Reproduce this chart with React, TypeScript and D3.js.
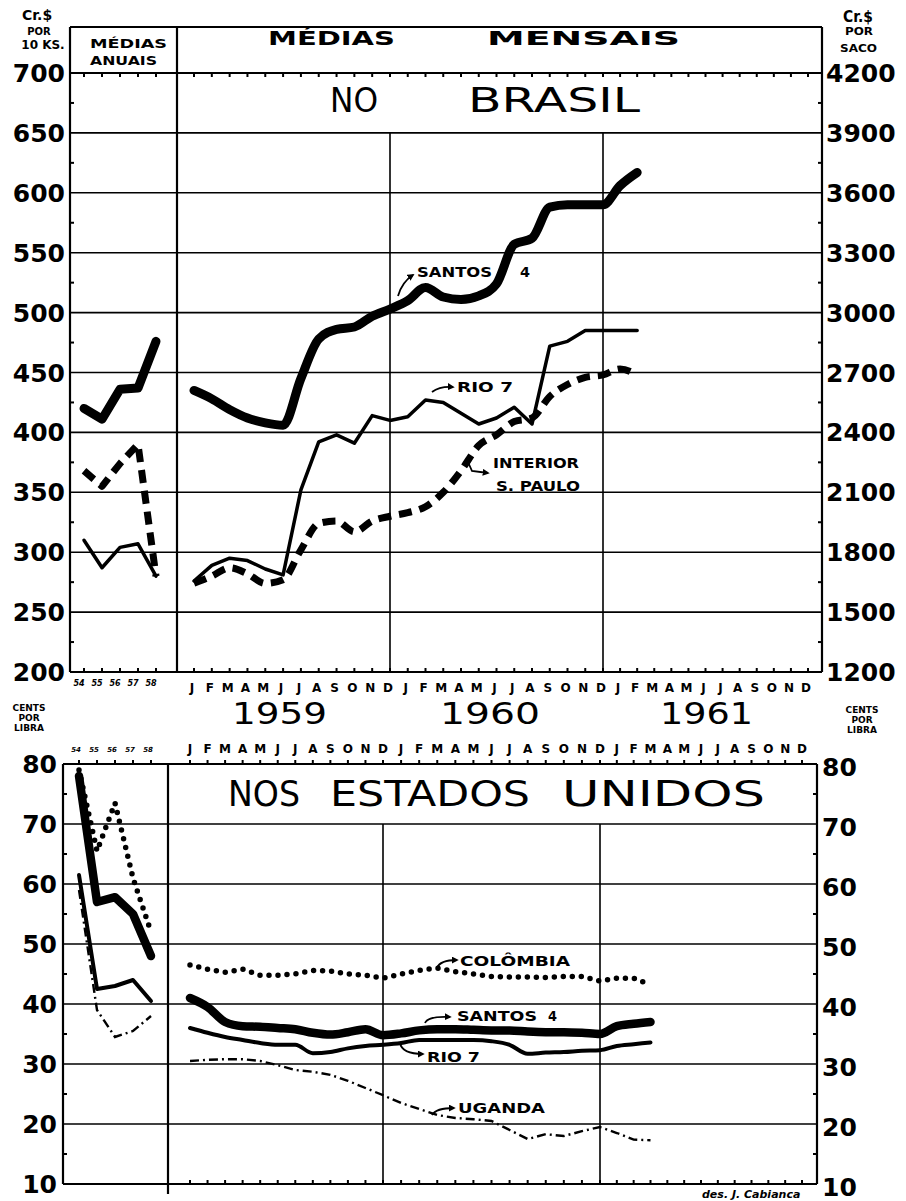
import React from "react";
import * as d3 from "d3";

// ---------- tick labels ----------
const monthLetters = ["J", "F", "M", "A", "M", "J", "J", "A", "S", "O", "N", "D"];
const yearLabels = ["1959", "1960", "1961"];
const annualYears = ["54", "55", "56", "57", "58"];
const brLeftTicks = [200, 250, 300, 350, 400, 450, 500, 550, 600, 650, 700];
const brRightTicks = [1200, 1500, 1800, 2100, 2400, 2700, 3000, 3300, 3600, 3900, 4200];
const usTicks = [10, 20, 30, 40, 50, 60, 70, 80];

// ---------- Brazil (Cr$ per 10 kg) ----------
const brSantosAnnual = [420, 411, 436, 437, 476];
const brRioAnnual = [310, 287, 304, 307, 280];
const brInteriorAnnual = [368, 355, 374, 390, 280];
// monthly Jan 1959 .. Feb 1961
const brSantosMonthly = [435, 428, 419, 412, 408, 406, 445, 478, 486, 488, 497, 503, 510, 521, 513, 511, 514, 524, 557, 562, 588, 590, 590, 590, 606, 617];
const brRioMonthly = [276, 289, 295, 293, 286, 281, 352, 392, 398, 391, 414, 410, 413, 427, 425, 416, 407, 412, 421, 407, 472, 476, 485, 485, 485, 485];
const brInteriorMonthly = [274, 280, 287, 282, 274, 277, 302, 324, 326, 317, 326, 330, 333, 338, 350, 368, 389, 398, 409, 412, 430, 440, 446, 448, 453, 448];

// ---------- United States (cents per lb) ----------
const usSantosAnnual = [78, 57, 57.8, 55, 48];
const usColombiaAnnual = [79, 65.5, 73.5, 61, 52];
const usRioAnnual = [61.5, 42.5, 43, 44, 40.5];
const usUgandaAnnual = [59, 39, 34.5, 35.5, 38];
// monthly Jan 1959 .. Mar 1961
const usColombiaMonthly = [46.5, 45.8, 45.3, 45.8, 44.8, 44.8, 45.0, 45.6, 45.5, 45.0, 44.8, 44.3, 45.0, 45.6, 46.0, 45.4, 45.0, 44.6, 44.5, 44.5, 44.4, 44.6, 44.6, 43.8, 44.3, 44.3, 43.2];
const usSantosMonthly = [41.0, 39.5, 37.0, 36.3, 36.2, 36.0, 35.8, 35.2, 34.9, 35.3, 35.8, 34.8, 35.1, 35.6, 35.8, 35.8, 35.7, 35.6, 35.6, 35.4, 35.3, 35.3, 35.2, 35.0, 36.3, 36.7, 37.0];
const usRioMonthly = [36.0, 35.2, 34.5, 34.0, 33.5, 33.2, 33.2, 31.8, 32.0, 32.6, 33.0, 33.2, 33.5, 34.0, 34.0, 34.0, 34.0, 33.8, 33.2, 31.7, 31.9, 32.0, 32.2, 32.3, 33.0, 33.3, 33.6];
const usUgandaMonthly = [30.5, 30.7, 30.8, 30.8, 30.5, 29.8, 29.0, 28.7, 28.2, 27.2, 26.0, 24.8, 23.5, 22.5, 21.5, 21.0, 20.8, 20.5, 19.0, 17.5, 18.3, 18.0, 18.8, 19.5, 18.5, 17.4, 17.3];

const FONT = "'DejaVu Sans', Verdana, sans-serif";
const INK = "#000";

// ---------- geometry ----------
const T = { left: 70, right: 822, top: 27, sep: 177 };
const B = { left: 63, right: 817, sep: 168 };

const yTop = d3.scaleLinear().domain([200, 700]).range([672, 73]);
const yTopR = d3.scaleLinear().domain([1200, 4200]).range([672, 73]);
const xTopM = d3.scaleLinear().domain([0, 11, 23, 35]).range([194, 390, 603, 808]);
const xTopA = d3.scaleLinear().domain([0, 4]).range([84, 156]);

const yBot = d3.scaleLinear().domain([10, 80]).range([1184, 764]);
const xBotM = d3.scaleLinear().domain([0, 11, 23, 35]).range([190, 383, 600, 802]);
const xBotA = d3.scaleLinear().domain([0, 4]).range([79, 151]);

function mkLine(x: any, y: any, curve: any = d3.curveLinear) {
  return d3
    .line<number>()
    .x((_, i) => x(i))
    .y((d) => y(d))
    .curve(curve);
}

const topM = mkLine(xTopM, yTop, d3.curveMonotoneX);
const topMLin = mkLine(xTopM, yTop);
const topA = mkLine(xTopA, yTop);
const botM = mkLine(xBotM, yBot, d3.curveMonotoneX);
const botMLin = mkLine(xBotM, yBot);
const botA = mkLine(xBotA, yBot);

const monthIdx = d3.range(36);

const santosStyle = { fill: "none", stroke: INK, strokeWidth: 9, strokeLinecap: "round" as const, strokeLinejoin: "round" as const };
const rioStyle = { fill: "none", stroke: INK, strokeWidth: 3.5, strokeLinecap: "round" as const, strokeLinejoin: "round" as const };
const interiorStyle = { fill: "none", stroke: INK, strokeWidth: 7, strokeDasharray: "13 8", strokeLinejoin: "round" as const };
const colombiaStyle = { fill: "none", stroke: INK, strokeWidth: 5.5, strokeDasharray: "0 9", strokeLinecap: "round" as const };
const ugandaStyle = { fill: "none", stroke: INK, strokeWidth: 2.4, strokeDasharray: "9 4 2 4" };

function Label({ x, y, text, len, size = 14, weight = "bold" }: any) {
  return (
    <text x={x} y={y} fontSize={size} fontWeight={weight} fontFamily={FONT} textLength={len} lengthAdjust="spacingAndGlyphs" fill={INK}>
      {text}
    </text>
  );
}

function Arrow({ d }: { d: string }) {
  return <path d={d} fill="none" stroke={INK} strokeWidth={1.8} markerEnd="url(#arrowHead)" />;
}

export default function App() {
  const gridStroke = { stroke: INK, strokeWidth: 1.6 };
  const frameStroke = { stroke: INK, strokeWidth: 2.2 };

  return (
    <svg width={906} height={1201} viewBox="0 0 906 1201" style={{ position: "absolute", left: 0, top: 0, background: "#fff" }} fontFamily={FONT}>
      <defs>
        <marker id="arrowHead" viewBox="0 0 8 8" refX="6" refY="4" markerWidth="7" markerHeight="7" orient="auto" markerUnits="userSpaceOnUse">
          <path d="M0,0 L8,4 L0,8 z" fill={INK} />
        </marker>
      </defs>
      <rect x={0} y={0} width={906} height={1201} fill="#fff" />

      {/* ================= TOP PANEL: NO BRASIL ================= */}
      <line x1={T.left} x2={T.right} y1={T.top} y2={T.top} {...frameStroke} />
      <line x1={T.left} x2={T.left} y1={T.top} y2={yTop(200)} {...frameStroke} />
      <line x1={T.right} x2={T.right} y1={T.top} y2={yTop(200)} {...frameStroke} />
      <line x1={T.sep} x2={T.sep} y1={T.top} y2={yTop(200)} {...frameStroke} />
      {brLeftTicks.map((v) => (
        <line key={"tg" + v} x1={T.left} x2={T.right} y1={yTop(v)} y2={yTop(v)} {...(v === 200 || v === 700 ? frameStroke : gridStroke)} />
      ))}
      {[11, 23].map((m) => (
        <line key={"tv" + m} x1={xTopM(m)} x2={xTopM(m)} y1={yTop(650)} y2={yTop(200)} {...gridStroke} />
      ))}
      {monthIdx.map((m) => (
        <g key={"tt" + m}>
          <line x1={xTopM(m)} x2={xTopM(m)} y1={yTop(200)} y2={yTop(200) - 4} stroke={INK} strokeWidth={2} />
          <line x1={xTopM(m)} x2={xTopM(m)} y1={yTop(700)} y2={yTop(700) + 4} stroke={INK} strokeWidth={2} />
        </g>
      ))}
      {annualYears.map((_, i) => (
        <g key={"ta" + i}>
          <line x1={xTopA(i)} x2={xTopA(i)} y1={yTop(200)} y2={yTop(200) - 4} stroke={INK} strokeWidth={2} />
          <line x1={xTopA(i)} x2={xTopA(i)} y1={yTop(700)} y2={yTop(700) + 4} stroke={INK} strokeWidth={2} />
        </g>
      ))}
      {d3.range(225, 700, 50).map((v) => (
        <g key={"tm" + v}>
          <line x1={T.left} x2={T.left + 4} y1={yTop(v)} y2={yTop(v)} stroke={INK} strokeWidth={2} />
          <line x1={T.right - 4} x2={T.right} y1={yTop(v)} y2={yTop(v)} stroke={INK} strokeWidth={2} />
        </g>
      ))}

      {brLeftTicks.map((v) => (
        <text key={"tl" + v} x={65} y={yTop(v) + 9} textAnchor="end" fontSize={25} fontWeight="bold" fill={INK}>
          {v}
        </text>
      ))}
      {brRightTicks.map((v) => (
        <text key={"tr" + v} x={826} y={yTopR(v) + 9} textAnchor="start" fontSize={25} fontWeight="bold" fill={INK}>
          {v}
        </text>
      ))}

      <text x={37} y={20} textAnchor="middle" fontSize={14} fontWeight="bold">Cr.$</text>
      <text x={39} y={35} textAnchor="middle" fontSize={10} fontWeight="bold">POR</text>
      <text x={43} y={49} textAnchor="middle" fontSize={12} fontWeight="bold">10 KS.</text>
      <Label x={843} y={22} text="Cr.$" len={30} size={15} />
      <Label x={845} y={35} text="POR" len={28} size={11} />
      <Label x={840} y={52} text="SACO" len={37} size={11} />

      <Label x={90} y={48} text="MÉDIAS" len={77} size={13} />
      <Label x={90} y={65} text="ANUAIS" len={67} size={13} />
      <Label x={268} y={45} text="MÉDIAS" len={127} size={19} />
      <Label x={487} y={45} text="MENSAIS" len={193} size={19} />
      <Label x={330} y={112} text="NO" len={48} size={34} weight="normal" />
      <Label x={468} y={112} text="BRASIL" len={172} size={34} weight="normal" />

      {monthIdx.map((m) => (
        <text key={"ml" + m} x={xTopM(m) - 2} y={692} textAnchor="middle" fontSize={12} fontWeight="bold">
          {monthLetters[m % 12]}
        </text>
      ))}
      {annualYears.map((y, i) => (
        <text key={"al" + i} x={xTopA(i) - 5} y={686} textAnchor="middle" fontSize={8} fontWeight="bold" fontStyle="italic">
          {y}
        </text>
      ))}
      {yearLabels.map((y, i) => (
        <Label key={y} x={[232, 440, 660][i]} y={724} text={y} len={[95, 100, 93][i]} size={30} weight="normal" />
      ))}

      <path d={topA(brSantosAnnual) || ""} {...santosStyle} />
      <path d={topA(brRioAnnual) || ""} {...rioStyle} />
      <path d={topA(brInteriorAnnual) || ""} {...interiorStyle} />
      <path d={topM(brSantosMonthly) || ""} {...santosStyle} />
      <path d={topMLin(brRioMonthly) || ""} {...rioStyle} />
      <path d={topM(brInteriorMonthly) || ""} {...interiorStyle} />

      <Label x={417} y={277} text="SANTOS" len={75} size={14} />
      <Label x={520} y={277} text="4" len={10} size={14} />
      <Arrow d="M398,296 Q402,282 413,275" />
      <Label x={457} y={392} text="RIO 7" len={56} size={14} />
      <Arrow d="M432,392 Q440,386 453,387" />
      <Label x={493} y={468} text="INTERIOR" len={86} size={14} />
      <Label x={496} y={491} text="S. PAULO" len={84} size={14} />
      <Arrow d="M468,462 L472,471 L488,473" />

      {/* ================= BOTTOM PANEL: NOS ESTADOS UNIDOS ================= */}
      <line x1={B.left} x2={B.right} y1={yBot(80)} y2={yBot(80)} {...frameStroke} />
      <line x1={B.left} x2={B.right} y1={yBot(10)} y2={yBot(10)} {...frameStroke} />
      <line x1={B.left} x2={B.left} y1={yBot(80)} y2={yBot(10)} {...frameStroke} />
      <line x1={B.right} x2={B.right} y1={yBot(80)} y2={yBot(10)} {...frameStroke} />
      <line x1={B.sep} x2={B.sep} y1={yBot(80)} y2={yBot(10) + 10} {...frameStroke} />
      {usTicks.filter((v) => v !== 10 && v !== 80).map((v) => (
        <line key={"bg" + v} x1={B.left} x2={B.right} y1={yBot(v)} y2={yBot(v)} {...gridStroke} />
      ))}
      {[11, 23].map((m) => (
        <line key={"bv" + m} x1={xBotM(m)} x2={xBotM(m)} y1={yBot(70)} y2={yBot(10)} {...gridStroke} />
      ))}
      {monthIdx.map((m) => (
        <g key={"bt" + m}>
          <line x1={xBotM(m)} x2={xBotM(m)} y1={yBot(10)} y2={yBot(10) - 4} stroke={INK} strokeWidth={2} />
          <line x1={xBotM(m)} x2={xBotM(m)} y1={yBot(80)} y2={yBot(80) - 4} stroke={INK} strokeWidth={2} />
        </g>
      ))}
      {annualYears.map((_, i) => (
        <line key={"ba" + i} x1={xBotA(i)} x2={xBotA(i)} y1={yBot(80)} y2={yBot(80) - 4} stroke={INK} strokeWidth={2} />
      ))}
      {d3.range(15, 80, 10).map((v) => (
        <g key={"bm" + v}>
          <line x1={B.left} x2={B.left + 4} y1={yBot(v)} y2={yBot(v)} stroke={INK} strokeWidth={2} />
          <line x1={B.right - 4} x2={B.right} y1={yBot(v)} y2={yBot(v)} stroke={INK} strokeWidth={2} />
        </g>
      ))}

      {usTicks.map((v) => (
        <text key={"bl" + v} x={57} y={yBot(v) + 9} textAnchor="end" fontSize={25} fontWeight="bold">
          {v}
        </text>
      ))}
      {usTicks.map((v) => (
        <text key={"br" + v} x={822} y={yBot(v) + 12} textAnchor="start" fontSize={25} fontWeight="bold">
          {v}
        </text>
      ))}

      <text x={29} y={711} textAnchor="middle" fontSize={9} fontWeight="bold">CENTS</text>
      <text x={29} y={721} textAnchor="middle" fontSize={9} fontWeight="bold">POR</text>
      <text x={29} y={731} textAnchor="middle" fontSize={9} fontWeight="bold">LIBRA</text>
      <text x={862} y={713} textAnchor="middle" fontSize={9} fontWeight="bold">CENTS</text>
      <text x={862} y={723} textAnchor="middle" fontSize={9} fontWeight="bold">POR</text>
      <text x={862} y={733} textAnchor="middle" fontSize={9} fontWeight="bold">LIBRA</text>

      {monthIdx.map((m) => (
        <text key={"bml" + m} x={xBotM(m)} y={753} textAnchor="middle" fontSize={12} fontWeight="bold">
          {monthLetters[m % 12]}
        </text>
      ))}
      {annualYears.map((y, i) => (
        <text key={"bal" + i} x={xBotA(i) - 3} y={752} textAnchor="middle" fontSize={7} fontWeight="bold" fontStyle="italic">
          {y}
        </text>
      ))}

      <Label x={228} y={806} text="NOS" len={72} size={36} weight="normal" />
      <Label x={330} y={806} text="ESTADOS" len={200} size={36} weight="normal" />
      <Label x={562} y={806} text="UNIDOS" len={203} size={36} weight="normal" />

      <path d={botA(usColombiaAnnual) || ""} {...colombiaStyle} />
      <path d={botA(usUgandaAnnual) || ""} {...ugandaStyle} />
      <path d={botA(usRioAnnual) || ""} {...rioStyle} strokeWidth={4} />
      <path d={botA(usSantosAnnual) || ""} {...santosStyle} strokeWidth={8.5} />
      <path d={botMLin(usColombiaMonthly) || ""} {...colombiaStyle} />
      <path d={botMLin(usUgandaMonthly) || ""} {...ugandaStyle} />
      <path d={botM(usRioMonthly) || ""} {...rioStyle} strokeWidth={4} />
      <path d={botM(usSantosMonthly) || ""} {...santosStyle} strokeWidth={8.5} />

      <Label x={460} y={966} text="COLÔMBIA" len={110} size={14} />
      <Arrow d="M437,968 Q440,960 457,960" />
      <Label x={457} y={1021} text="SANTOS" len={80} size={14} />
      <Label x={548} y={1021} text="4" len={9} size={14} />
      <Arrow d="M425,1023 Q428,1016 450,1017" />
      <Label x={427} y={1062} text="RIO 7" len={53} size={14} />
      <Arrow d="M400,1043 Q402,1054 423,1054" />
      <Label x={458} y={1113} text="UGANDA" len={87} size={14} />
      <Arrow d="M432,1115 Q436,1108 454,1108" />

      <text x={702} y={1198} fontSize={11} fontStyle="italic" fontWeight="bold">des. J. Cabianca</text>
    </svg>
  );
}
